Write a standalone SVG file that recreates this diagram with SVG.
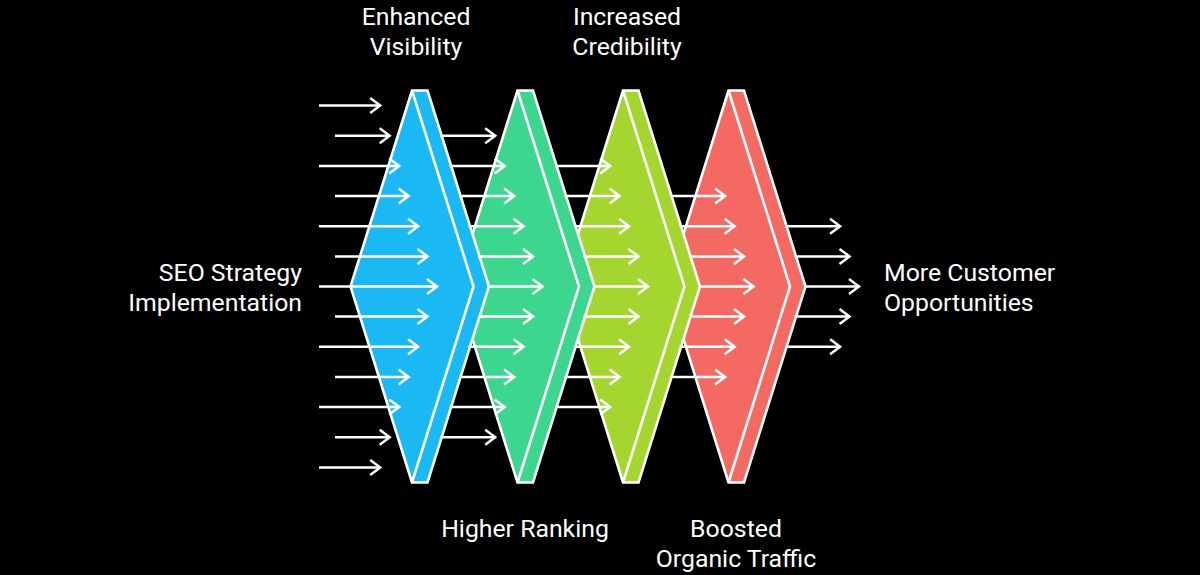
<svg xmlns="http://www.w3.org/2000/svg" width="1200" height="575" viewBox="0 0 1200 575">
<defs>
<style>
.bg{fill:#000}
.chev{stroke:#fff;stroke-width:2.6;stroke-linejoin:miter;stroke-miterlimit:6}
.inner{fill:none;stroke:#fff;stroke-width:2.6;stroke-linejoin:miter}
.arr{stroke:#fff;stroke-width:2.5;fill:none;marker-end:url(#ah)}
.lbl{font-family:Roboto,"Liberation Sans",sans-serif;font-size:24.8px;fill:#fff}
.c{text-anchor:middle}
.r{text-anchor:end}
</style>
<marker id="ah" markerUnits="userSpaceOnUse" markerWidth="14" markerHeight="20" refX="11" refY="9" orient="auto" overflow="visible">
<path d="M1,1.5 L11,9 L1,16.5" fill="none" stroke="#fff" stroke-width="2.5" stroke-linejoin="miter"/>
</marker>
</defs>
<rect class="bg" x="0" y="0" width="1200" height="575"/>

<g id="boosted-organic-traffic">
<polygon class="chev" fill="#F46A63" points="667,286.5 728.5,90.5 744,90.5 805.5,286.5 744,482.5 728.5,482.5"/>
<polyline class="inner" points="728.5,90.5 790,286.5 728.5,482.5"/>
</g>
<g id="increased-credibility">
<polygon class="chev" fill="#A4D62F" points="561.5,286.5 623,90.5 638.5,90.5 700,286.5 638.5,482.5 623,482.5"/>
<polyline class="inner" points="623,90.5 684.5,286.5 623,482.5"/>
</g>
<g id="higher-ranking">
<polygon class="chev" fill="#3DD68E" points="456,286.5 517.5,90.5 533,90.5 594.5,286.5 533,482.5 517.5,482.5"/>
<polyline class="inner" points="517.5,90.5 579,286.5 517.5,482.5"/>
</g>
<g id="enhanced-visibility">
<polygon class="chev" fill="#1BB9F4" points="350.5,286.5 412,90.5 427.5,90.5 489,286.5 427.5,482.5 412,482.5"/>
<polyline class="inner" points="412,90.5 473.5,286.5 412,482.5"/>
</g>

<g id="connectors">
<path class="arr" d="M319,105.5H380.2"/>
<path class="arr" d="M335,135.7H389.7"/>
<path class="arr" d="M319,165.9H399.2"/>
<path class="arr" d="M335,196H408.6"/>
<path class="arr" d="M319,226.2H418.1"/>
<path class="arr" d="M335,256.4H427.5"/>
<path class="arr" d="M319,286.5H437"/>
<path class="arr" d="M335,316.6H427.5"/>
<path class="arr" d="M319,346.8H418.1"/>
<path class="arr" d="M335,377H408.6"/>
<path class="arr" d="M319,407.1H399.2"/>
<path class="arr" d="M335,437.3H389.7"/>
<path class="arr" d="M319,467.5H380.2"/>

<path class="arr" d="M440.2,135.7H495.2"/>
<path class="arr" d="M449.7,165.9H504.7"/>
<path class="arr" d="M459.1,196H514.1"/>
<path class="arr" d="M468.6,226.2H523.6"/>
<path class="arr" d="M478,256.4H533"/>
<path class="arr" d="M487.5,286.5H542.5"/>
<path class="arr" d="M478,316.6H533"/>
<path class="arr" d="M468.6,346.8H523.6"/>
<path class="arr" d="M459.1,377H514.1"/>
<path class="arr" d="M449.7,407.1H504.7"/>
<path class="arr" d="M440.2,437.3H495.2"/>

<path class="arr" d="M555.2,165.9H610.2"/>
<path class="arr" d="M564.6,196H619.6"/>
<path class="arr" d="M574.1,226.2H629.1"/>
<path class="arr" d="M583.5,256.4H638.5"/>
<path class="arr" d="M593,286.5H648"/>
<path class="arr" d="M583.5,316.6H638.5"/>
<path class="arr" d="M574.1,346.8H629.1"/>
<path class="arr" d="M564.6,377H619.6"/>
<path class="arr" d="M555.2,407.1H610.2"/>

<path class="arr" d="M670.1,196H725.1"/>
<path class="arr" d="M679.6,226.2H734.6"/>
<path class="arr" d="M689,256.4H744"/>
<path class="arr" d="M698.5,286.5H753.5"/>
<path class="arr" d="M689,316.6H744"/>
<path class="arr" d="M679.6,346.8H734.6"/>
<path class="arr" d="M670.1,377H725.1"/>

<path class="arr" d="M785.1,226.2H840.1"/>
<path class="arr" d="M794.5,256.4H849.5"/>
<path class="arr" d="M804,286.5H859"/>
<path class="arr" d="M794.5,316.6H849.5"/>
<path class="arr" d="M785.1,346.8H840.1"/>
</g>

<g id="labels">
<text class="lbl c" x="416" y="25">Enhanced</text>
<text class="lbl c" x="416" y="55">Visibility</text>
<text class="lbl c" x="627" y="25">Increased</text>
<text class="lbl c" x="627" y="55">Credibility</text>
<text class="lbl c" x="525" y="537">Higher Ranking</text>
<text class="lbl c" x="736" y="537">Boosted</text>
<text class="lbl c" x="736" y="567">Organic Traffic</text>
<text class="lbl r" x="302" y="281">SEO Strategy</text>
<text class="lbl r" x="302" y="311">Implementation</text>
<text class="lbl" x="884" y="281">More Customer</text>
<text class="lbl" x="884" y="311">Opportunities</text>
</g>
</svg>
